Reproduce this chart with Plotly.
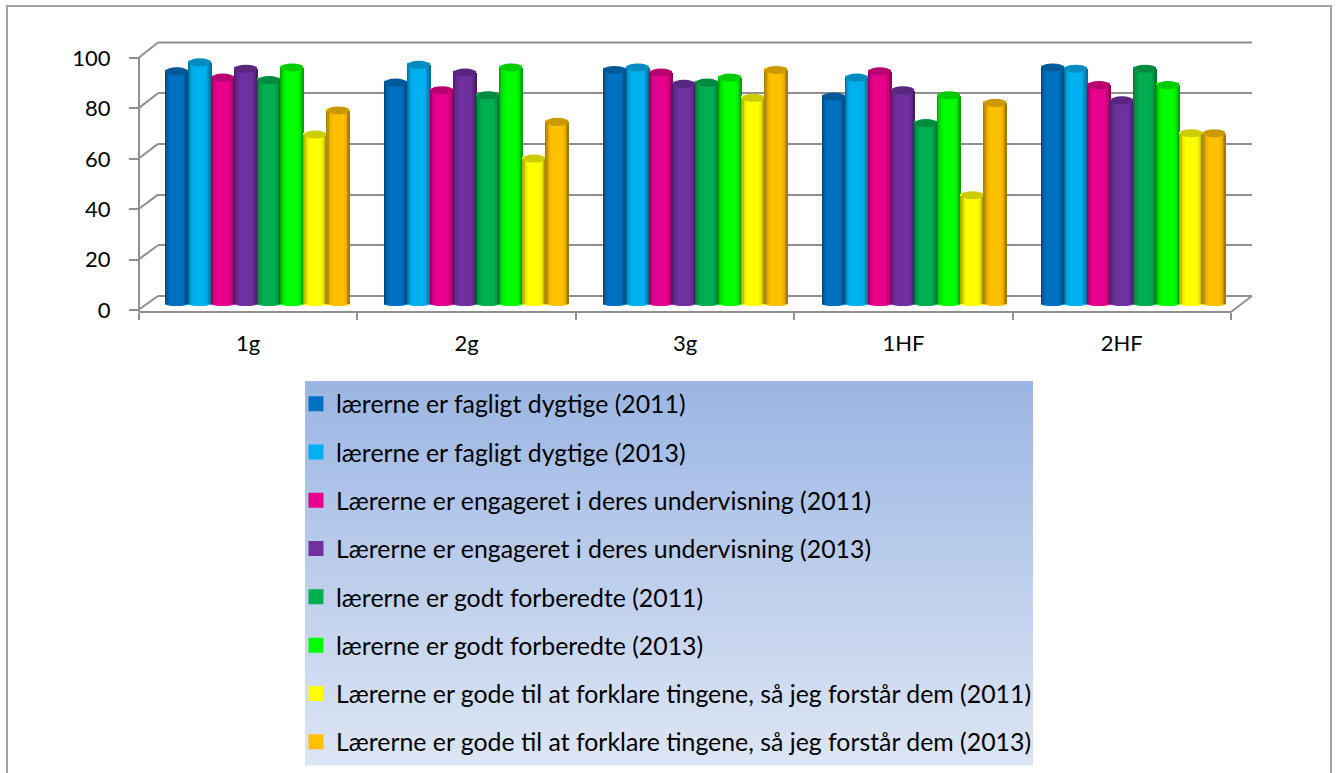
import plotly.graph_objects as go

W, H = 1336, 773
categories = ["1g", "2g", "3g", "1HF", "2HF"]
series_names = [
    "lærerne er fagligt dygtige (2011)",
    "lærerne er fagligt dygtige (2013)",
    "Lærerne er engageret i deres undervisning (2011)",
    "Lærerne er engageret i deres undervisning (2013)",
    "lærerne er godt forberedte (2011)",
    "lærerne er godt forberedte (2013)",
    "Lærerne er gode til at forklare tingene, så jeg forstår dem (2011)",
    "Lærerne er gode til at forklare tingene, så jeg forstår dem (2013)",
]
v_fagligt_2011 = [92, 87.5, 92.5, 82, 93.5]
v_fagligt_2013 = [95.5, 94.5, 93.5, 89.5, 93]
v_engageret_2011 = [89.5, 84.5, 91.5, 92, 86.5]
v_engageret_2013 = [93, 91.5, 87, 84.5, 80.5]
v_forberedte_2011 = [88.5, 82.5, 87.5, 71.5, 93]
v_forberedte_2013 = [93.5, 93.5, 89.5, 82.5, 86.5]
v_forklare_2011 = [67, 57.5, 81.5, 43, 67.5]
v_forklare_2013 = [76.5, 72, 92.5, 79.5, 67.5]
series_values = [v_fagligt_2011, v_fagligt_2013, v_engageret_2011, v_engageret_2013,
                 v_forberedte_2011, v_forberedte_2013, v_forklare_2011, v_forklare_2013]
colors = ["#0070c0", "#00b0f0", "#e6008c", "#7030a0", "#00b050", "#00ff00", "#ffff00", "#ffc000"]
y_ticks = [0, 20, 40, 60, 80, 100]

FONT = "Lato"
GRAY = "#8f8f8f"


def px(x):
    return x / W


def py(y):
    return 1 - y / H


def shade(hex_color, f):
    r, g, b = (int(hex_color[i:i + 2], 16) for i in (1, 3, 5))
    return f"rgb({int(r * f)},{int(g * f)},{int(b * f)})"


def y_domain(bottom_px, top_px):
    return [py(bottom_px), py(top_px)]


fig = go.Figure()

# back wall: gridlines only
fig.add_trace(go.Scatter(x=[0], y=[0], xaxis="x", yaxis="y", mode="markers",
                         marker=dict(opacity=0), showlegend=False, hoverinfo="skip"))

# cylinders in the middle depth plane
bar_w = 0.1055
left_edge = [(0.00, 0.05, 0.66), (0.05, 0.10, 0.76), (0.10, 0.16, 0.88), (0.16, 0.22, 0.95)]
right_edge = [(0.78, 0.84, 0.95), (0.84, 0.90, 0.88), (0.90, 0.95, 0.76), (0.95, 1.00, 0.64)]
shapes = []
for s, (name, vals, col) in enumerate(zip(series_names, series_values, colors)):
    x0s = [i + 0.5 + (s - 4) * bar_w for i in range(len(categories))]
    fig.add_trace(go.Bar(x=[x + bar_w / 2 for x in x0s], y=vals, width=bar_w - 0.0137, name=name,
                         xaxis="x2", yaxis="y2", legendgroup=name,
                         marker=dict(color=col, line=dict(width=3, color=col)), showlegend=True))
    for u0, u1, f in left_edge + right_edge:
        fig.add_trace(go.Bar(x=[x + bar_w * (u0 + u1) / 2 for x in x0s], y=vals,
                             width=bar_w * (u1 - u0), xaxis="x2", yaxis="y2", legendgroup=name,
                             marker=dict(color=shade(col, f), line=dict(width=0)),
                             showlegend=False, hoverinfo="skip"))
    for x, v in zip(x0s, vals):
        shapes.append(dict(type="circle", xref="x2", yref="y2", x0=x + 0.002, x1=x + bar_w - 0.002,
                           y0=v - 1.6, y1=v + 1.6, fillcolor=shade(col, 0.8),
                           line=dict(width=0), layer="above"))
        shapes.append(dict(type="circle", xref="x2", yref="y2", x0=x, x1=x + bar_w,
                           y0=-0.8, y1=0.8, fillcolor=col, line=dict(width=0), layer="below"))

# legend background gradient
TOP_RGB, BOT_RGB = (156, 182, 227), (221, 230, 245)
n_bands = 96
lx0, lx1, ly0, ly1 = 305, 1033, 381, 765
for k in range(n_bands):
    t = k / (n_bands - 1)
    c = tuple(int(a + (b - a) * t) for a, b in zip(TOP_RGB, BOT_RGB))
    shapes.append(dict(type="rect", xref="paper", yref="paper", layer="below",
                       x0=px(lx0), x1=px(lx1),
                       y0=py(ly0 + (ly1 - ly0) * k / n_bands),
                       y1=py(ly0 + (ly1 - ly0) * (k + 1) / n_bands + 0.5),
                       fillcolor=f"rgb{c}", line=dict(width=0)))


def pline(x0, y0, x1, y1, color=GRAY, width=2):
    shapes.append(dict(type="line", xref="paper", yref="paper", x0=px(x0), y0=py(y0),
                       x1=px(x1), y1=py(y1), line=dict(color=color, width=width), layer="below"))


# outer frame
pline(7, 773, 7, 6, "#a3a3a3")
pline(6, 6, 1332, 6, "#a3a3a3")
pline(1331, 6, 1331, 773, "#a3a3a3")

# depth connectors and axis closure
for t in y_ticks:
    y_front = 309.5 - t * 2.52
    y_back = 296 - t * 2.535
    pline(139, y_front, 158, y_back)
pline(139, 57, 139, 312)
pline(1231, 312, 1252, 296)
pline(158, 42.5, 1252, 42.5)
pline(158, 296, 1252, 296)

fig.update_layout(
    width=W, height=H, margin=dict(l=0, r=0, t=0, b=0, autoexpand=False),
    paper_bgcolor="white", plot_bgcolor="rgba(0,0,0,0)",
    barmode="overlay", bargap=0, shapes=shapes,
    font=dict(family=FONT, size=21, color="black"),
    showlegend=True,
    legend=dict(x=px(296), y=py(381), xanchor="left", yanchor="top",
                bgcolor="rgba(0,0,0,0)", tracegroupgap=13, traceorder="grouped",
                itemclick=False, itemdoubleclick=False,
                font=dict(family=FONT, size=24.85, color="black")),
    # back wall
    xaxis=dict(domain=[px(158), px(1252)], range=[0, 1], visible=False),
    yaxis=dict(domain=y_domain(296, 42.5), range=[0, 100], anchor="x", tickvals=y_ticks,
               showgrid=True, gridcolor=GRAY, gridwidth=2, zeroline=False,
               showticklabels=False, ticks="", showline=False),
    # bar plane
    xaxis2=dict(domain=[px(148), px(1243)], range=[0, 5], visible=False, anchor="y2"),
    yaxis2=dict(domain=y_domain(304 + 25.3, 51 - 25.3), range=[-10, 110], visible=False, anchor="x2"),
    # front axes
    xaxis3=dict(domain=[px(139), px(1231)], range=[0, 5], anchor="free", position=py(312),
                tickvals=[i + 0.5 for i in range(len(categories))], ticktext=categories,
                ticks="", showgrid=False, zeroline=False, showline=True, linecolor=GRAY, linewidth=2,
                ticklabelstandoff=12, tickfont=dict(family=FONT, size=22, color="black"),
                minor=dict(tickvals=list(range(len(categories) + 1)), ticks="outside",
                           ticklen=7, tickwidth=2, tickcolor=GRAY, showgrid=False)),
    yaxis3=dict(domain=y_domain(310, 58), range=[0, 100], anchor="x3", tickvals=y_ticks,
                ticks="outside", ticklen=9, tickwidth=2, tickcolor=GRAY, showgrid=False,
                zeroline=False, showline=False, ticklabelstandoff=14,
                tickfont=dict(family=FONT, size=22, color="black")),
)
fig.add_trace(go.Scatter(x=[0], y=[0], xaxis="x3", yaxis="y3", mode="markers",
                         marker=dict(opacity=0), showlegend=False, hoverinfo="skip"))

fig.write_html("out.html", post_script="document.body.style.margin='0';",
               config={"displayModeBar": False})
